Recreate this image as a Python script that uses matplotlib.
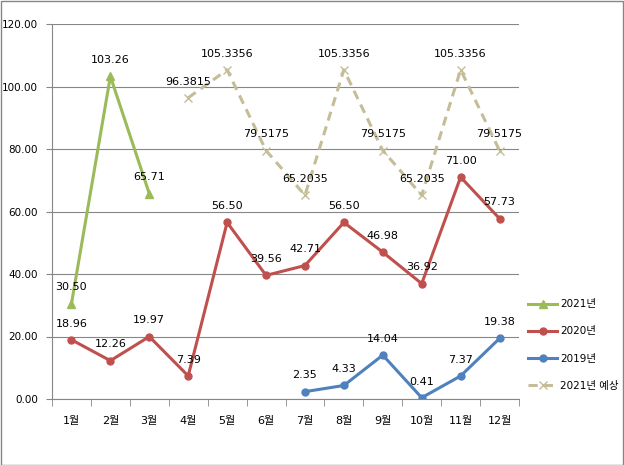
import numpy as np
import matplotlib.pyplot as plt
from matplotlib.ticker import FormatStrFormatter

plt.rcParams['font.family'] = ['DejaVu Sans', 'Noto Sans CJK KR']
plt.rcParams['font.size'] = 8

months = ['1월', '2월', '3월', '4월', '5월', '6월', '7월', '8월', '9월', '10월', '11월', '12월']

y2021 = [30.50, 103.26, 65.71]
y2020 = [18.96, 12.26, 19.97, 7.39, 56.50, 39.56, 42.71, 56.50, 46.98, 36.92, 71.00, 57.73]
y2019 = [2.35, 4.33, 14.04, 0.41, 7.37, 19.38]
y2021f = [96.3815, 105.3356, 79.5175, 65.2035, 105.3356, 79.5175, 65.2035, 105.3356, 79.5175]

x2021 = np.arange(1, 4)
x2020 = np.arange(1, 13)
x2019 = np.arange(7, 13)
x2021f = np.arange(4, 13)

fig = plt.figure(figsize=(6.24, 4.65), dpi=100)
ax = fig.add_axes([52/624, 1 - 399/465, 467/624, 375/465])

ax.plot(x2021f, y2021f, color='#C4BD97', lw=2.2, ls=(0, (3, 2)), marker='x', ms=6, mew=1, label='2021년 예상')
ax.plot(x2019, y2019, color='#4F81BD', lw=2.2, marker='o', ms=5, label='2019년')
ax.plot(x2020, y2020, color='#C0504D', lw=2.2, marker='o', ms=5, label='2020년')
ax.plot(x2021, y2021, color='#9BBB59', lw=2.2, marker='^', ms=6, label='2021년')

def labels(xs, ys, fmt):
    for x, y in zip(xs, ys):
        ax.annotate(fmt % y, (x, y), xytext=(0, 9.5), textcoords='offset points',
                    ha='center', va='baseline', fontsize=8)

labels(x2021, y2021, '%.2f')
labels(x2020, y2020, '%.2f')
labels(x2019, y2019, '%.2f')
labels(x2021f, y2021f, '%.4f')

ax.set_xlim(0.5, 12.5)
ax.set_ylim(0, 120)
ax.set_yticks(np.arange(0, 121, 20))
ax.yaxis.set_major_formatter(FormatStrFormatter('%.2f'))
ax.set_xticks(np.arange(1, 13))
ax.set_xticklabels(months)
ax.set_xticks(np.arange(0.5, 12.6, 1), minor=True)
ax.tick_params(axis='x', which='major', length=0, pad=12)
ax.tick_params(axis='x', which='minor', length=5, color='#868686')
ax.tick_params(axis='y', length=4, color='#868686', pad=6, labelsize=7.5)
ax.grid(axis='y', color='#868686', lw=0.8)
ax.set_axisbelow(True)
for s in ['top', 'right']:
    ax.spines[s].set_visible(False)
for s in ['left', 'bottom']:
    ax.spines[s].set_color('#868686')

h, l = ax.get_legend_handles_labels()
order = [3, 2, 1, 0]
ax.legend([h[i] for i in order], [l[i] for i in order], loc='center left',
          bbox_to_anchor=(524/624, 1 - 345/465), bbox_transform=fig.transFigure,
          frameon=False, fontsize=7.5, handlelength=2.8, labelspacing=1.65,
          handletextpad=0.3, borderaxespad=0)

fig.patches.append(plt.Rectangle((0.001, 0.001), 0.997, 0.997, transform=fig.transFigure,
                                 fill=False, edgecolor='#868686', lw=1))

fig.savefig('out.png', dpi=100)
